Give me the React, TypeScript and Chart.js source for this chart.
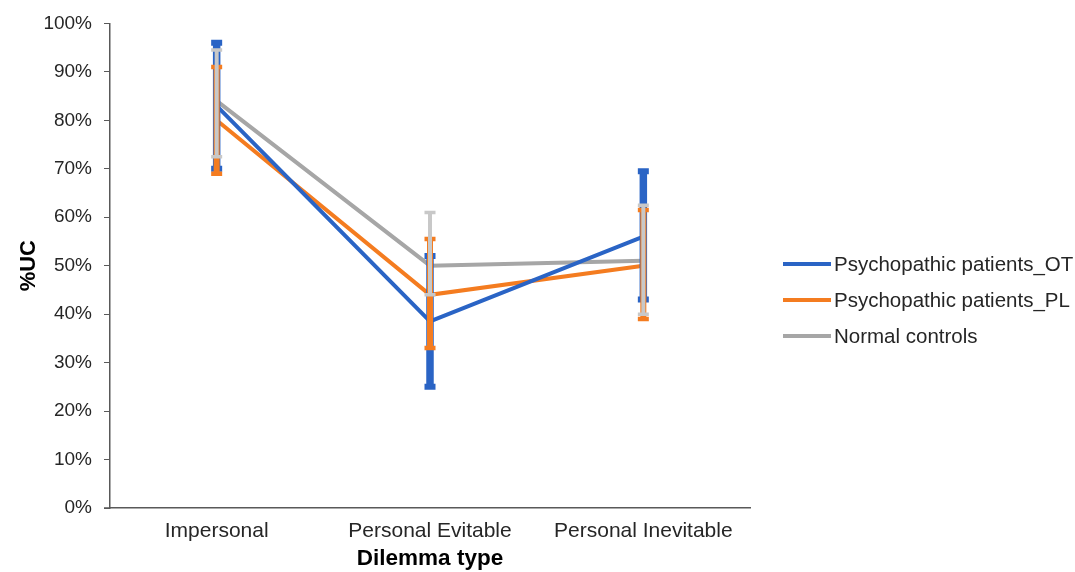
import React, { useEffect, useRef } from "react";
import { Chart, registerables } from "chart.js";

Chart.register(...registerables);

const categories = ["Impersonal", "Personal Evitable", "Personal Inevitable"];
const seriesNames = ["Psychopathic patients_OT", "Psychopathic patients_PL", "Normal controls"];
const otValues = [83, 38.5, 56];
const otUpper = [96, 52, 69.5];
const otLower = [70, 25, 43];
const plValues = [80, 44, 50];
const plUpper = [91, 55.5, 61.5];
const plLower = [69, 33, 39];
const ncValues = [84, 50, 51];
const ncUpper = [94.5, 61, 62.5];
const ncLower = [72.5, 44, 40];
const yTicks = [0, 10, 20, 30, 40, 50, 60, 70, 80, 90, 100];

const colors = ["#2A64C5", "#F47C20", "#A6A6A6"];
const errColors = ["#2A64C5", "#F47C20", "#C8C8C8"];
const errWidths = [7.5, 6, 4];
const capThick = [6, 4.5, 3.5];
const FONT = "'Liberation Sans', Arial, sans-serif";

const uppers = [otUpper, plUpper, ncUpper];
const lowers = [otLower, plLower, ncLower];

const errorBarPlugin = {
  id: "errorBars",
  afterDatasetsDraw(chart: any) {
    const ctx = chart.ctx;
    const xs = chart.scales.x;
    const ys = chart.scales.y;
    ctx.save();
    for (let d = 0; d < 3; d++) {
      for (let i = 0; i < categories.length; i++) {
        const x = xs.getPixelForValue(i);
        const yT = ys.getPixelForValue(uppers[d][i]);
        const yB = ys.getPixelForValue(lowers[d][i]);
        ctx.strokeStyle = errColors[d];
        ctx.lineWidth = errWidths[d];
        ctx.lineCap = "butt";
        ctx.beginPath();
        ctx.moveTo(x, yT);
        ctx.lineTo(x, yB);
        ctx.stroke();
        ctx.lineWidth = capThick[d];
        ctx.beginPath();
        ctx.moveTo(x - 5.5, yT);
        ctx.lineTo(x + 5.5, yT);
        ctx.moveTo(x - 5.5, yB);
        ctx.lineTo(x + 5.5, yB);
        ctx.stroke();
      }
    }
    ctx.restore();
  },
};

const legendPlugin = {
  id: "customLegend",
  afterDraw(chart: any) {
    const ctx = chart.ctx;
    ctx.save();
    // extend x-axis line slightly left of the y axis, as in the reference
    const ys = chart.scales.y;
    const xs = chart.scales.x;
    ctx.strokeStyle = "#595959";
    ctx.lineWidth = 1.5;
    ctx.beginPath();
    ctx.moveTo(xs.left - 6, ys.getPixelForValue(0));
    ctx.lineTo(xs.left, ys.getPixelForValue(0));
    ctx.stroke();
    chart.data.datasets.forEach((ds: any, i: number) => {
      const y = 264 + i * 36;
      ctx.strokeStyle = ds.borderColor;
      ctx.lineWidth = 4;
      ctx.beginPath();
      ctx.moveTo(783, y);
      ctx.lineTo(831, y);
      ctx.stroke();
      ctx.fillStyle = "#262626";
      ctx.font = `20.5px ${FONT}`;
      ctx.textBaseline = "middle";
      ctx.textAlign = "left";
      ctx.fillText(ds.label, 834, y + 1);
    });
    ctx.restore();
  },
};

export default function App() {
  const ref = useRef<HTMLCanvasElement>(null);
  useEffect(() => {
    if (!ref.current) return;
    const chart = new Chart(ref.current, {
      type: "line",
      data: {
        labels: categories,
        datasets: [otValues, plValues, ncValues].map((vals, i) => ({
          label: seriesNames[i],
          data: vals,
          borderColor: colors[i],
          backgroundColor: colors[i],
          borderWidth: 4,
          pointRadius: 0,
          tension: 0,
        })),
      },
      options: {
        responsive: false,
        animation: false,
        layout: { padding: { top: 22, right: 325, left: 0, bottom: 0 } },
        plugins: {
          legend: { display: false },
          tooltip: { enabled: false },
        },
        scales: {
          x: {
            type: "category",
            offset: true,
            grid: { display: false, drawTicks: false },
            border: { display: true, color: "#595959", width: 1.5 },
            ticks: {
              color: "#262626",
              font: { family: FONT, size: 21 },
              padding: 11,
            },
            title: {
              display: true,
              text: "Dilemma type",
              color: "#000000",
              font: { family: FONT, size: 22.5, weight: "bold" },
              padding: { top: 0, bottom: 0 },
            },
            afterFit(scale: any) {
              scale.height = 64;
            },
          },
          y: {
            min: 0,
            max: 100,
            afterBuildTicks(scale: any) {
              scale.ticks = yTicks.map((v) => ({ value: v }));
            },
            grid: {
              drawOnChartArea: false,
              drawTicks: true,
              tickLength: 6,
              color: "#595959",
            },
            border: { display: true, color: "#595959", width: 1.5 },
            ticks: {
              color: "#262626",
              font: { family: FONT, size: 19 },
              padding: 12,
              callback: (v: any) => `${v}%`,
            },
            title: {
              display: true,
              text: "%UC",
              color: "#000000",
              font: { family: FONT, size: 22, weight: "bold" },
              padding: { top: 16, bottom: 0 },
            },
            afterFit(scale: any) {
              scale.width = 110;
            },
          },
        },
      },
      plugins: [errorBarPlugin, legendPlugin],
    });
    return () => chart.destroy();
  }, []);
  return (
    <canvas
      ref={ref}
      width={1075}
      height={572}
      style={{ position: "absolute", left: 0, top: 0, display: "block", background: "#fff" }}
    />
  );
}
